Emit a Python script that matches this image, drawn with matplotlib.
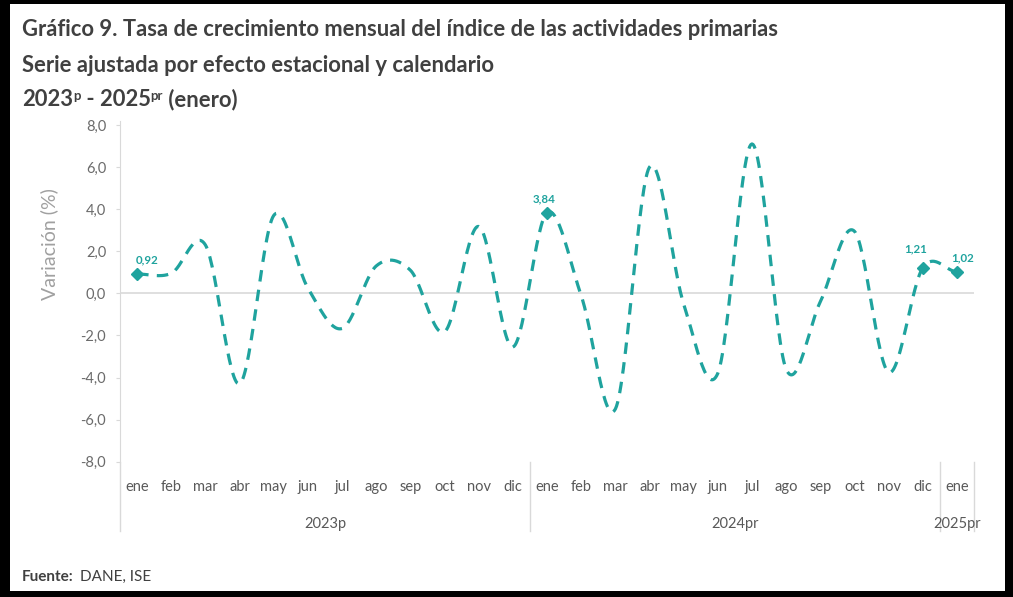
import numpy as np
import matplotlib
matplotlib.use("Agg")
import matplotlib.pyplot as plt
from matplotlib.patches import Rectangle
from matplotlib.lines import Line2D

plt.rcParams["font.family"] = ["Lato", "DejaVu Sans"]

months = ["ene", "feb", "mar", "abr", "may", "jun", "jul", "ago", "sep", "oct", "nov", "dic",
          "ene", "feb", "mar", "abr", "may", "jun", "jul", "ago", "sep", "oct", "nov", "dic",
          "ene"]
years = ["2023p", "2024pr", "2025pr"]
year_sizes = [12, 12, 1]
values = [0.92, 0.95, 2.3, -4.3, 3.7, 0.25, -1.67, 1.3, 1.1, -1.83, 3.18, -2.55,
          3.84, -0.1, -5.5, 6.0, -0.5, -3.8, 7.1, -3.6, -0.4, 2.95, -3.75, 1.21,
          1.02]
labeled = [0, 12, 23, 24]

teal = "#1fa39e"
gray_txt = "#595959"
title_col = "#404040"
axis_gray = "#d9d9d9"

W, H = 1013, 597
fig = plt.figure(figsize=(W / 100, H / 100), dpi=100)
fig.patch.set_facecolor("black")
fig.patches.append(Rectangle((10 / W, 1 - 591 / H), (1005 - 10) / W, (591 - 4) / H,
                             transform=fig.transFigure, facecolor="white",
                             edgecolor="none", zorder=-5))

ax = fig.add_axes([120 / W, 1 - 461.7 / H, (974 - 120) / W, (461.7 - 125) / H])
ax.set_facecolor("none")

x = np.arange(len(values))
y = np.array(values)

# Excel style smoothed line (bezier through the points)
xs, ys = [], []
for i in range(len(values) - 1):
    p0 = y[i - 1] if i > 0 else y[i]
    p3 = y[i + 2] if i + 2 < len(values) else y[i + 1]
    p1, p2 = y[i], y[i + 1]
    t = np.linspace(0, 1, 30, endpoint=False)
    c1 = p1 + (p2 - p0) / 6
    c2 = p2 - (p3 - p1) / 6
    seg = (1 - t) ** 3 * p1 + 3 * (1 - t) ** 2 * t * c1 + 3 * (1 - t) * t ** 2 * c2 + t ** 3 * p2
    xs.extend(i + t)
    ys.extend(seg)
xs.append(x[-1])
ys.append(y[-1])

ax.axhline(0, color=axis_gray, lw=1.2, zorder=1)
ax.plot(xs, ys, color=teal, lw=2.3, linestyle=(0, (3.6, 2.6)), zorder=3)
ax.plot(x[labeled], y[labeled], linestyle="none", marker="D", ms=6, color=teal, zorder=4)

offsets = {0: (7, 6), 12: (-2, 6), 23: (-5, 10), 24: (4, 6)}
for i in labeled:
    dx, dy = offsets[i]
    ax.annotate(f"{values[i]:.2f}".replace(".", ","), (x[i], y[i]), xytext=(dx, dy),
                textcoords="offset points", ha="center", va="bottom",
                fontsize=8.3, color=teal, fontweight="bold")

ax.set_xlim(-0.5, len(values) - 0.5)
ax.set_ylim(-8, 8)
ax.set_yticks(np.arange(-8, 8.1, 2))
ax.set_yticklabels([f"{v:.1f}".replace(".", ",") for v in np.arange(-8, 8.1, 2)])
ax.tick_params(axis="y", colors="#6b6b6b", labelsize=10.5, length=3, color=axis_gray, pad=7)
ax.set_xticks([])
for s in ["top", "right", "bottom"]:
    ax.spines[s].set_visible(False)
ax.spines["left"].set_color(axis_gray)
ax.spines["left"].set_bounds(-8, 8.2)
ax.set_ylabel("Variación (%)", color="#a0a0a0", fontsize=14)
ax.yaxis.set_label_coords(-0.073, 0.645)

# category axis (month + year levels)
tr = ax.get_xaxis_transform()
for i, m in enumerate(months):
    ax.text(x[i], -0.075, m, transform=tr, ha="center", va="center",
            fontsize=10.5, color=gray_txt, clip_on=False)
start = 0
bounds = [-0.5]
for yr, n in zip(years, year_sizes):
    ax.text(start + (n - 1) / 2, -0.185, yr, transform=tr, ha="center", va="center",
            fontsize=10.5, color=gray_txt, clip_on=False)
    start += n
    bounds.append(start - 0.5)
for b in bounds:
    ax.add_line(Line2D([b, b], [0, -0.205], transform=tr, color=axis_gray,
                       lw=1.0, clip_on=False))

# title lines
title_fs = 15.8
fig.text(22 / W, 1 - 30 / H, "Gráfico 9. Tasa de crecimiento mensual del índice de las actividades primarias",
         va="center", color=title_col, fontweight="bold", fontsize=title_fs)
fig.text(22 / W, 1 - 66 / H, "Serie ajustada por efecto estacional y calendario",
         va="center", color=title_col, fontweight="bold", fontsize=title_fs)

renderer = fig.canvas.get_renderer()
pieces = [("2023", 0, title_fs), ("p", 6, 9.5), (" - 2025", 0, title_fs),
          ("pr", 6, 9.5), (" (enero)", 0, title_fs)]
xpix = 22
base = 1 - 106 / H
for txt, rise, fs in pieces:
    t = fig.text(xpix / W, base + rise / H, txt, color=title_col, fontweight="bold",
                 fontsize=fs, va="baseline", ha="left")
    xpix += t.get_window_extent(renderer).width

fig.text(22 / W, 1 - 577 / H, "Fuente:", color=title_col, fontweight="bold", fontsize=11, va="center")
fig.text(80 / W, 1 - 577 / H, "DANE, ISE", color=title_col, fontsize=11, va="center")

fig.savefig("out.png", dpi=100, facecolor=fig.get_facecolor())
